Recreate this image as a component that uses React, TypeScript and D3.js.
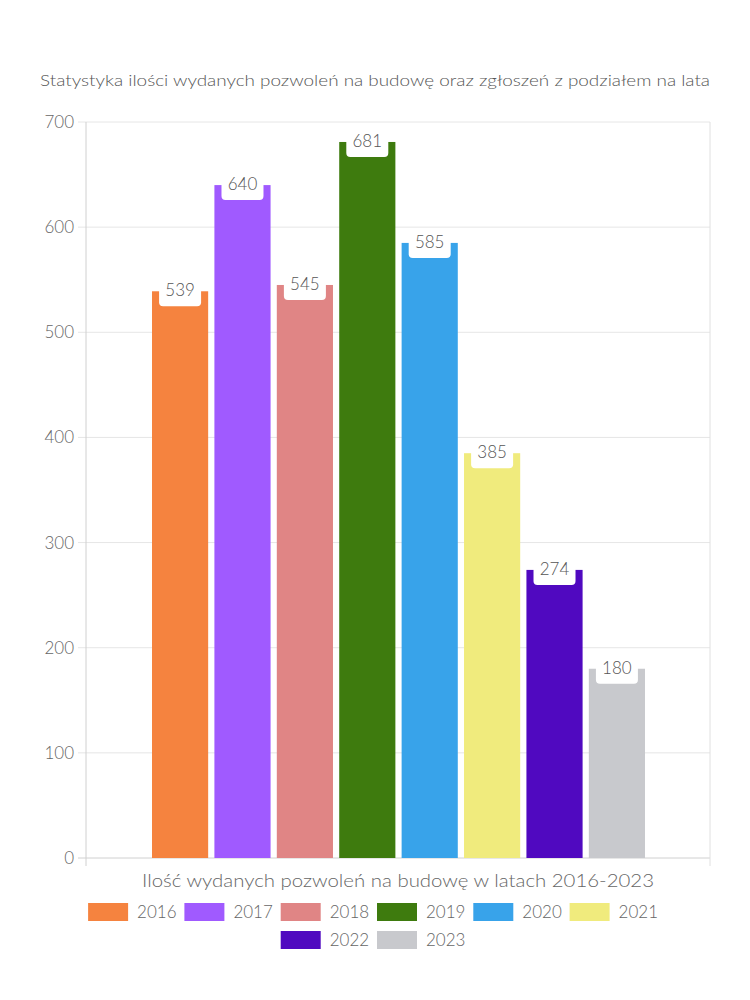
import React from "react";
import * as d3 from "d3";

const years = ["2016", "2017", "2018", "2019", "2020", "2021", "2022", "2023"];
const values = [539, 640, 545, 681, 585, 385, 274, 180];
const colors = ["#F5833F", "#A05AFF", "#E08585", "#3E7B0E", "#38A3EA", "#F0EB7D", "#5009C0", "#C8C9CD"];
const yTicks = [0, 100, 200, 300, 400, 500, 600, 700];
const title = "Statystyka ilości wydanych pozwoleń na budowę oraz zgłoszeń z podziałem na lata";
const xTitle = "Ilość wydanych pozwoleń na budowę w latach 2016-2023";

const W = 750, H = 1000;
const plotL = 86, plotR = 710, plotT = 122, plotB = 858;
const font = "Lato, 'Noto Sans', sans-serif";

export default function App() {
  const y = d3.scaleLinear().domain([0, 700]).range([plotB, plotT]);
  const x = d3.scaleBand<string>().domain(years).range([152, 645]).paddingInner(0.1).paddingOuter(0);
  const bw = x.bandwidth();

  const legendRows = [years.slice(0, 6), years.slice(6)];
  const itemW = 96.3;

  return (
    <svg width={W} height={H} style={{ position: "absolute", left: 0, top: 0, background: "#fff" }} fontFamily={font} fontWeight={300}>
      <text x={375} y={86} textAnchor="middle" fontSize={16} fill="#555" textLength={670} lengthAdjust="spacingAndGlyphs">{title}</text>
      {yTicks.map((t) => (
        <g key={t}>
          <line x1={78} x2={plotR} y1={y(t)} y2={y(t)} stroke={t === 0 ? "#d0d0d0" : "#e6e6e6"} strokeWidth={1} />
          <text x={74} y={y(t) + 6} textAnchor="end" fontSize={17} fill="#666">{t}</text>
        </g>
      ))}
      <line x1={plotL} x2={plotL} y1={plotT} y2={plotB + 8} stroke="#d0d0d0" />
      <line x1={plotR} x2={plotR} y1={plotT} y2={plotB + 8} stroke="#e0e0e0" />
      {years.map((yr, i) => {
        const bx = x(yr)!;
        const top = y(values[i]);
        const cx = bx + bw / 2;
        return (
          <g key={yr}>
            <rect x={bx} y={top} width={bw} height={plotB - top} fill={colors[i]} />
            <rect x={cx - 21} y={top - 15} width={42} height={30} rx={4} fill="#fff" />
            <text x={cx} y={top + 5} textAnchor="middle" fontSize={17} fill="#555">{values[i]}</text>
          </g>
        );
      })}
      <text x={398} y={887} textAnchor="middle" fontSize={17} fill="#666" textLength={512} lengthAdjust="spacingAndGlyphs">{xTitle}</text>
      {legendRows.map((row, ri) => {
        const total = row.length * itemW;
        const startX = 375 - total / 2 + 2;
        const yy = 903 + ri * 28;
        return row.map((yr, k) => {
          const i = years.indexOf(yr);
          const sx = startX + k * itemW;
          return (
            <g key={yr}>
              <rect x={sx} y={yy} width={40} height={18} fill={colors[i]} />
              <text x={sx + 49} y={yy + 15} fontSize={17} fill="#666">{yr}</text>
            </g>
          );
        });
      })}
    </svg>
  );
}
